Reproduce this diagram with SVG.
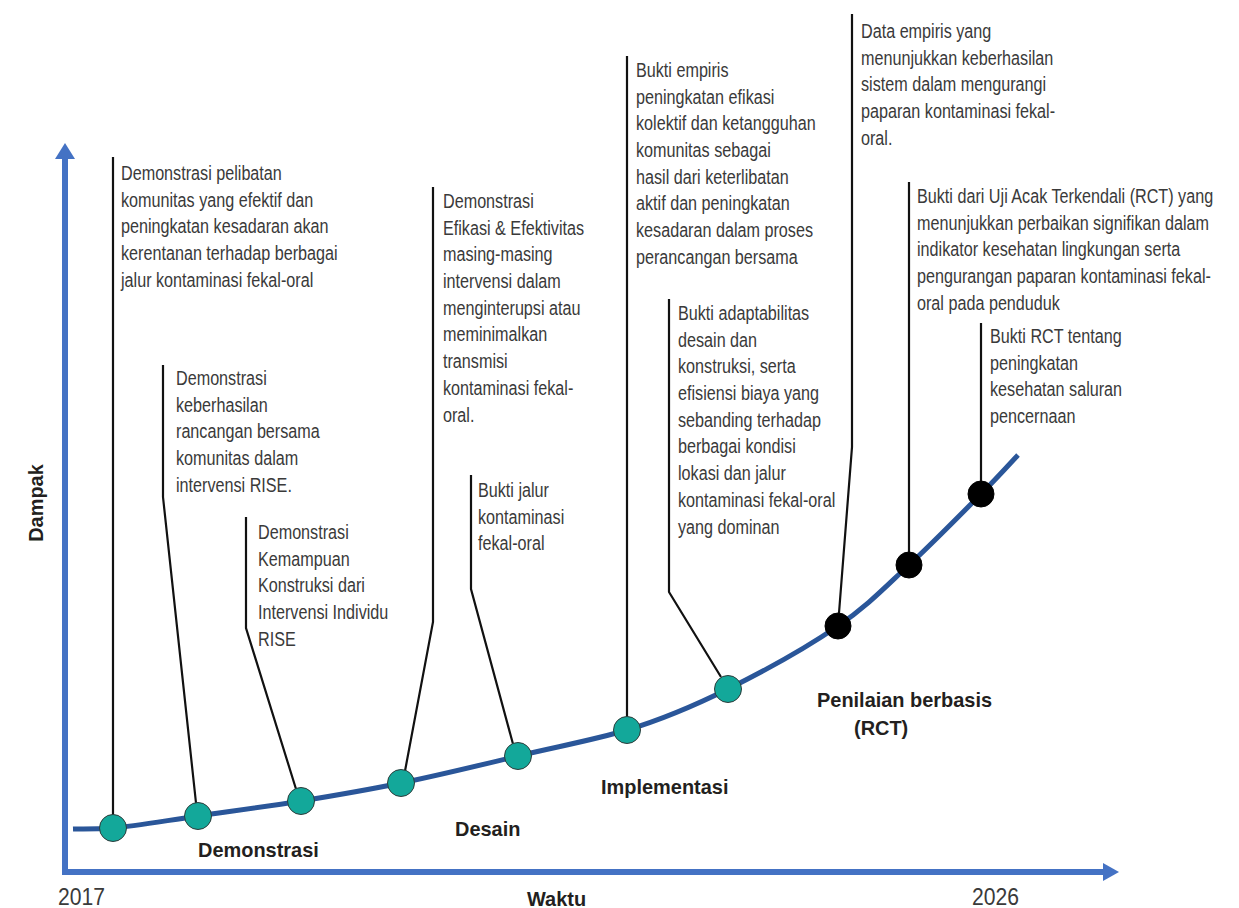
<svg xmlns="http://www.w3.org/2000/svg" width="1239" height="908" viewBox="0 0 1239 908">
<style>
.d{font-family:"Liberation Sans",Arial,sans-serif;font-size:21px;fill:#3a3a3a}
.b{font-family:"Liberation Sans",Arial,sans-serif;font-size:21px;font-weight:bold;fill:#231f20}
.yr{font-family:"Liberation Sans",Arial,sans-serif;font-size:24px;fill:#3a3a3a}
.lead{fill:none;stroke:#111;stroke-width:2.2;stroke-linejoin:miter}
.teal{fill:#13a89a;stroke:#2d3b3a;stroke-width:1}
.blk{fill:#000;stroke:#000;stroke-width:1}
</style>
<rect width="1239" height="908" fill="#fff"/>
<g id="axes">
<line x1="65" y1="875" x2="65" y2="156" stroke="#4472c4" stroke-width="6"/>
<polygon points="65,143 55,159 75,159" fill="#4472c4"/>
<line x1="62" y1="872" x2="1105" y2="872" stroke="#4472c4" stroke-width="6"/>
<polygon points="1119,872 1103,863 1103,881" fill="#4472c4"/>
<g transform="translate(43,503) rotate(-90) scale(0.95,1)"><text class="b" text-anchor="middle">Dampak</text></g>
<g transform="translate(527,906) scale(0.95,1)"><text class="b">Waktu</text></g>
<g transform="translate(58,905) scale(0.88,1)"><text class="yr" x="0" y="0">2017</text></g>
<g transform="translate(972,905) scale(0.88,1)"><text class="yr" x="0" y="0">2026</text></g>
</g>
<g id="curve">
<path d="M73,829 C79.7,828.8 92.2,829.5 113,828 C133.8,826.5 166.7,820.5 198,816 C229.3,811.5 267.2,806.5 301,801 C334.8,795.5 364.8,790.5 401,783 C437.2,775.5 480.3,765.2 518,756 C555.7,746.8 592,740.5 627,730 C662,719.5 692.8,706.5 728,689 C763.2,671.5 807.8,646.7 838,626 C868.2,605.3 885.2,587 909,565 C932.8,543 962.8,512.3 981,494 C999.2,475.7 1011.8,461.5 1018,455" fill="none" stroke="#2a5699" stroke-width="5"/>
</g>
<g id="phases">
<g transform="translate(198,857) scale(0.95,1)"><text class="b">Demonstrasi</text></g>
<g transform="translate(455,836) scale(0.95,1)"><text class="b">Desain</text></g>
<g transform="translate(601,794) scale(0.95,1)"><text class="b">Implementasi</text></g>
<g transform="translate(817,707) scale(0.95,1)"><text class="b">Penilaian berbasis</text></g>
<g transform="translate(854,735) scale(0.95,1)"><text class="b">(RCT)</text></g>
</g>
<g id="connectors">
<polyline class="lead" points="113,157 113,815"/>
<polyline class="lead" points="163,365 163,497 196,803"/>
<polyline class="lead" points="246,517 246,628 296,789"/>
<polyline class="lead" points="433,187 433,622 405,771"/>
<polyline class="lead" points="471,475 471,589 513,744"/>
<polyline class="lead" points="627,56 627,718"/>
<polyline class="lead" points="669,299 669,592 721,677"/>
<polyline class="lead" points="852,14 852,447 839,613"/>
<polyline class="lead" points="909,182 909,552"/>
<polyline class="lead" points="981,323 981,481"/>
</g>
<g id="n1"><circle class="teal" cx="113" cy="828" r="13.5"/>
<g transform="translate(121,180) scale(0.77,1)"><text class="d"><tspan x="0" y="0">Demonstrasi pelibatan</tspan><tspan x="0" y="26.7">komunitas yang efektif dan</tspan><tspan x="0" y="53.4">peningkatan kesadaran akan</tspan><tspan x="0" y="80.1">kerentanan terhadap berbagai</tspan><tspan x="0" y="106.8">jalur kontaminasi fekal-oral</tspan></text></g></g>
<g id="n2"><circle class="teal" cx="198" cy="816" r="13.5"/>
<g transform="translate(176,385) scale(0.77,1)"><text class="d"><tspan x="0" y="0">Demonstrasi</tspan><tspan x="0" y="26.7">keberhasilan</tspan><tspan x="0" y="53.4">rancangan bersama</tspan><tspan x="0" y="80.1">komunitas dalam</tspan><tspan x="0" y="106.8">intervensi RISE.</tspan></text></g></g>
<g id="n3"><circle class="teal" cx="301" cy="801" r="13.5"/>
<g transform="translate(258,539) scale(0.77,1)"><text class="d"><tspan x="0" y="0">Demonstrasi</tspan><tspan x="0" y="26.7">Kemampuan</tspan><tspan x="0" y="53.4">Konstruksi dari</tspan><tspan x="0" y="80.1">Intervensi Individu</tspan><tspan x="0" y="106.8">RISE</tspan></text></g></g>
<g id="n4"><circle class="teal" cx="401" cy="783" r="13.5"/>
<g transform="translate(443,208) scale(0.77,1)"><text class="d"><tspan x="0" y="0">Demonstrasi</tspan><tspan x="0" y="26.7">Efikasi &amp; Efektivitas</tspan><tspan x="0" y="53.4">masing-masing</tspan><tspan x="0" y="80.1">intervensi dalam</tspan><tspan x="0" y="106.8">menginterupsi atau</tspan><tspan x="0" y="133.5">meminimalkan</tspan><tspan x="0" y="160.2">transmisi</tspan><tspan x="0" y="186.9">kontaminasi fekal-</tspan><tspan x="0" y="213.6">oral.</tspan></text></g></g>
<g id="n5"><circle class="teal" cx="518" cy="756" r="13.5"/>
<g transform="translate(478,497) scale(0.77,1)"><text class="d"><tspan x="0" y="0">Bukti jalur</tspan><tspan x="0" y="26.7">kontaminasi</tspan><tspan x="0" y="53.4">fekal-oral</tspan></text></g></g>
<g id="n6"><circle class="teal" cx="627" cy="730" r="13.5"/>
<g transform="translate(636,77) scale(0.77,1)"><text class="d"><tspan x="0" y="0">Bukti empiris</tspan><tspan x="0" y="26.7">peningkatan efikasi</tspan><tspan x="0" y="53.4">kolektif dan ketangguhan</tspan><tspan x="0" y="80.1">komunitas sebagai</tspan><tspan x="0" y="106.8">hasil dari keterlibatan</tspan><tspan x="0" y="133.5">aktif dan peningkatan</tspan><tspan x="0" y="160.2">kesadaran dalam proses</tspan><tspan x="0" y="186.9">perancangan bersama</tspan></text></g></g>
<g id="n7"><circle class="teal" cx="728" cy="689" r="13.5"/>
<g transform="translate(678,320) scale(0.77,1)"><text class="d"><tspan x="0" y="0">Bukti adaptabilitas</tspan><tspan x="0" y="26.7">desain dan</tspan><tspan x="0" y="53.4">konstruksi, serta</tspan><tspan x="0" y="80.1">efisiensi biaya yang</tspan><tspan x="0" y="106.8">sebanding terhadap</tspan><tspan x="0" y="133.5">berbagai kondisi</tspan><tspan x="0" y="160.2">lokasi dan jalur</tspan><tspan x="0" y="186.9">kontaminasi fekal-oral</tspan><tspan x="0" y="213.6">yang dominan</tspan></text></g></g>
<g id="n8"><circle class="blk" cx="838" cy="626" r="13"/>
<g transform="translate(861,38) scale(0.77,1)"><text class="d"><tspan x="0" y="0">Data empiris yang</tspan><tspan x="0" y="26.7">menunjukkan keberhasilan</tspan><tspan x="0" y="53.4">sistem dalam mengurangi</tspan><tspan x="0" y="80.1">paparan kontaminasi fekal-</tspan><tspan x="0" y="106.8">oral.</tspan></text></g></g>
<g id="n9"><circle class="blk" cx="909" cy="565" r="13"/>
<g transform="translate(917,203) scale(0.77,1)"><text class="d"><tspan x="0" y="0">Bukti dari Uji Acak Terkendali (RCT) yang</tspan><tspan x="0" y="26.7">menunjukkan perbaikan signifikan dalam</tspan><tspan x="0" y="53.4">indikator kesehatan lingkungan serta</tspan><tspan x="0" y="80.1">pengurangan paparan kontaminasi fekal-</tspan><tspan x="0" y="106.8">oral pada penduduk</tspan></text></g></g>
<g id="n10"><circle class="blk" cx="981" cy="494" r="13"/>
<g transform="translate(990,343) scale(0.77,1)"><text class="d"><tspan x="0" y="0">Bukti RCT tentang</tspan><tspan x="0" y="26.7">peningkatan</tspan><tspan x="0" y="53.4">kesehatan saluran</tspan><tspan x="0" y="80.1">pencernaan</tspan></text></g></g>
</svg>
